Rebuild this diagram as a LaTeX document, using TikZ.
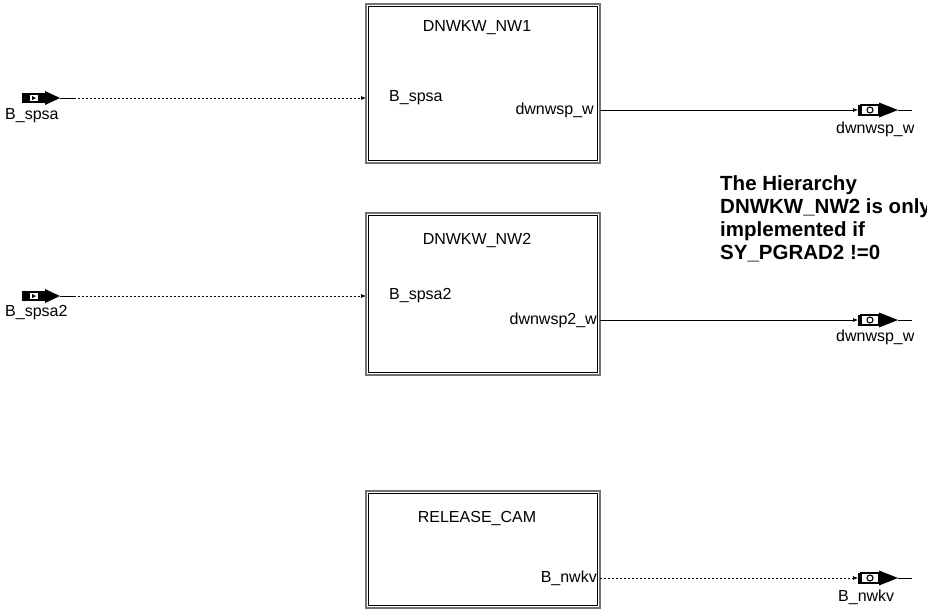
\documentclass[tikz,border=0pt]{standalone}
\usepackage{fontspec}
\setmainfont{Liberation Sans}
\usetikzlibrary{arrows.meta}
\tikzset{
  blk/.style={draw=black!55, line width=2.2pt, fill=white, inner sep=0pt},
  lbl/.style={inner sep=0pt, font=\fontsize{16}{18}\selectfont},
  note/.style={inner sep=0pt, align=left, font=\bfseries\fontsize{20.5}{23}\selectfont},
  sig/.style={line width=0.7pt, -{Latex[length=5pt,width=4pt]}},
  dsig/.style={sig, dash pattern=on 2pt off 2pt},
}
\newcommand{\myinport}[2]{%
  \begin{scope}[shift={#2}]
    \fill (-38,-5) rectangle (-15,5);
    \fill (-15,-7) -- (0,0) -- (-15,7) -- cycle;
    \fill[white] (-30,-3) rectangle (-22,3);
    \fill (-28,-2) -- (-24,0) -- (-28,2) -- cycle;
    \draw[line width=0.7pt] (0,0) -- (14,0);
  \end{scope}
  \coordinate (#1) at #2;}
\newcommand{\myoutport}[2]{%
  \begin{scope}[shift={#2}]
    \fill (0,-5.5) rectangle (3,5.5);
    \draw[line width=1.2pt, fill=white] (3,-5) rectangle (21,5);
    \draw[line width=1.1pt] (12,0) circle (3);
    \fill (21,-7.5) -- (40,0) -- (21,7.5) -- cycle;
    \draw[line width=0.7pt] (40,0) -- (54,0);
  \end{scope}
  \coordinate (#1) at #2;}
\newcommand{\innerframe}[1]{%
  \draw[line width=1.1pt] ([shift={(3.5,3.5)}]#1.north west) rectangle ([shift={(-3.5,-3.5)}]#1.south east);}
\begin{document}
\begin{tikzpicture}[x=1pt,y=-1pt]
\useasboundingbox (0,0) rectangle (927,611);
% blocks
\node[blk, minimum width=234pt, minimum height=159pt] (b1) at (483,83.5) {};
\innerframe{b1}
\node[blk, minimum width=234pt, minimum height=162pt] (b2) at (483,294) {};
\innerframe{b2}
\node[blk, minimum width=234pt, minimum height=117pt] (b3) at (483,549.5) {};
\innerframe{b3}
% block titles
\node[lbl] (t1) at (477,28) {DNWKW\_NW1};
\node[lbl] (t2) at (477,240) {DNWKW\_NW2};
\node[lbl] (t3) at (477,518) {RELEASE\_CAM};
% block ports
\node[lbl, anchor=west] (p1i) at (389,98) {B\_spsa};
\node[lbl, anchor=east] (p1o) at (594,110) {dwnwsp\_w};
\node[lbl, anchor=west] (p2i) at (389,296) {B\_spsa2};
\node[lbl, anchor=east] (p2o) at (597,320) {dwnwsp2\_w};
\node[lbl, anchor=east] (p3o) at (597,578) {B\_nwkv};
\coordinate (b1in) at (366,98);
\coordinate (b2in) at (366,296);
\coordinate (b1out) at (600,110);
\coordinate (b2out) at (600,320);
\coordinate (b3out) at (600,578);
% inports
\myinport{inA}{(60,98)}
\myinport{inB}{(60,296)}
\node[lbl, anchor=west] (inAl) at (5,116) {B\_spsa};
\node[lbl, anchor=west] (inBl) at (5,313) {B\_spsa2};
% outports
\myoutport{outA}{(858,110)}
\myoutport{outB}{(858,320)}
\myoutport{outC}{(858,578)}
\node[lbl, anchor=west] (outAl) at (836,129) {dwnwsp\_w};
\node[lbl, anchor=west] (outBl) at (836,337) {dwnwsp\_w};
\node[lbl, anchor=west] (outCl) at (838,597) {B\_nwkv};
% connectors
\draw[dsig] ([xshift=14pt]inA) -- (b1in);
\draw[dsig] ([xshift=14pt]inB) -- (b2in);
\draw[sig] (b1out) -- (outA);
\draw[sig] (b2out) -- (outB);
\draw[dsig] (b3out) -- (outC);
% note
\node[note, anchor=north west] (nt) at (720,175) {The Hierarchy\\DNWKW\_NW2 is only\\implemented if\\SY\_PGRAD2 !=0};
\end{tikzpicture}
\end{document}
